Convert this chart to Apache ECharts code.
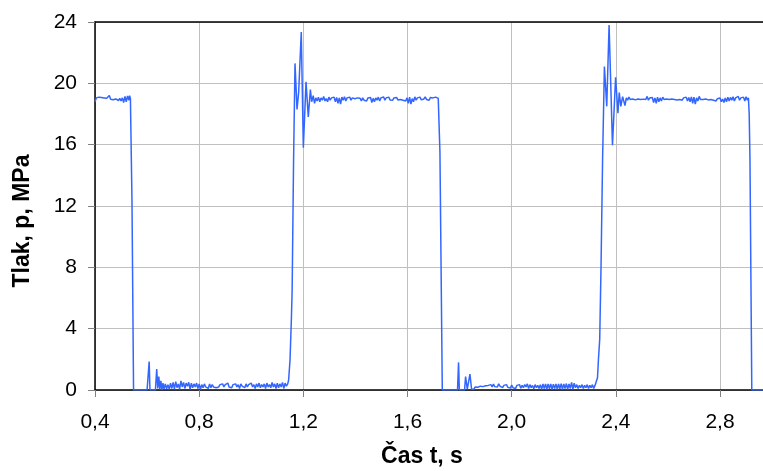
<!DOCTYPE html>
<html>
<head>
<meta charset="utf-8">
<script src="https://cdn.jsdelivr.net/npm/echarts@6/dist/echarts.min.js"></script>
<style>html,body{margin:0;padding:0;background:#fff;}#c{width:763px;height:471px;}</style>
</head>
<body>
<div id="c"></div>
<script>
// X ticks (s) and Y ticks (MPa)
const xTicks = [0.4, 0.8, 1.2, 1.6, 2.0, 2.4, 2.8];
const yTicks = [0, 4, 8, 12, 16, 20, 24];
const xTitle = 'Čas t, s';
const yTitle = 'Tlak, p, MPa';

// [time s, pressure MPa], by segment
const high0 = [
  [0.400,18.80],[0.405,19.05],[0.410,18.92],[0.415,19.10],[0.420,18.98],[0.425,19.08],[0.430,18.95],[0.435,19.05],
  [0.440,18.97],[0.445,19.02],[0.450,18.94],[0.455,19.20],[0.460,18.96],[0.465,19.06],[0.470,18.93],[0.475,19.04],
  [0.480,18.98],[0.485,19.10],[0.490,18.88],[0.495,19.02],[0.500,18.85],[0.505,19.05],[0.510,18.75],[0.515,19.15],
  [0.520,18.80],[0.525,19.18],[0.530,18.90],[0.533,19.20],[0.536,19.00]
];
const fall1 = [[0.542,12.30],[0.548,0.00]];
const low1 = [
  [0.600,0.00],[0.605,0.00],[0.608,1.85],[0.611,0.00],[0.632,0.00],[0.637,1.37],[0.641,0.10],[0.645,0.87],
  [0.649,0.05],[0.653,0.60],[0.657,0.00],[0.661,0.45],
  [0.665,0.05],[0.670,0.40],[0.675,0.08],[0.680,0.35],[0.685,0.05],[0.690,0.45],[0.695,0.10],[0.700,0.50],
  [0.705,0.05],[0.710,0.55],[0.715,0.15],[0.720,0.40],[0.725,0.05],[0.730,0.60],[0.735,0.20],[0.740,0.50],
  [0.745,0.10],[0.750,0.45],[0.755,0.25],[0.760,0.50],[0.765,0.05],[0.770,0.45],[0.775,0.15],[0.780,0.40],
  [0.785,0.20],[0.790,0.45],[0.795,0.10],[0.800,0.40],[0.805,0.05],[0.810,0.35],[0.815,0.15],[0.820,0.40],
  [0.825,0.20],[0.830,0.30],[0.835,0.10],[0.840,0.40],[0.845,0.15],[0.850,0.35],[0.855,0.20],[0.860,0.30],
  [0.865,0.15],[0.870,0.25],[0.875,0.20],[0.880,0.35],[0.885,0.25],[0.890,0.40],[0.895,0.20],[0.900,0.35],
  [0.905,0.25],[0.910,0.45],[0.915,0.20],[0.920,0.30],[0.925,0.15],[0.930,0.35],[0.935,0.25],[0.940,0.40],
  [0.945,0.20],[0.950,0.35],[0.955,0.10],[0.960,0.40],[0.965,0.25],[0.970,0.30],[0.975,0.15],[0.980,0.40],
  [0.985,0.20],[0.990,0.35],[0.995,0.25],[1.000,0.45],[1.005,0.20],[1.010,0.35],[1.015,0.10],[1.020,0.40],
  [1.025,0.20],[1.030,0.45],[1.035,0.15],[1.040,0.35],[1.045,0.20],[1.050,0.40],[1.055,0.10],[1.060,0.45],
  [1.065,0.20],[1.070,0.35],[1.075,0.15],[1.080,0.50],[1.085,0.20],[1.090,0.40],[1.095,0.10],[1.100,0.45],
  [1.105,0.15],[1.110,0.40],[1.115,0.20],[1.120,0.50],[1.125,0.10],[1.130,0.45],[1.135,0.25]
];
const rise1 = [
  [1.140,0.40],[1.1435,0.65],[1.149,2.00],[1.154,4.60],[1.157,6.50],[1.1625,15.00],[1.168,21.30],[1.1757,18.30],
  [1.182,19.40],[1.192,23.35],[1.200,15.80],[1.2103,20.10],[1.219,17.80],[1.227,19.60],[1.232,18.80],[1.238,19.20]
];
const high1 = [
  [1.243,18.70],[1.248,19.05],[1.253,18.85],[1.258,19.10],[1.263,18.80],[1.268,19.05],[1.273,18.90],[1.278,19.15],
  [1.283,18.85],[1.288,19.00],[1.293,18.80],[1.298,19.10],[1.303,18.90],[1.308,19.05],[1.313,18.95],[1.318,19.10],
  [1.323,18.80],[1.328,19.08],[1.333,18.70],[1.338,19.05],[1.343,18.65],[1.348,19.10],[1.353,18.90],[1.358,19.12],
  [1.363,18.85],[1.368,19.05],[1.373,18.95],[1.378,19.10],[1.383,18.90],[1.388,19.05],[1.393,18.95],[1.398,19.00],
  [1.403,18.88],[1.408,19.05],[1.413,18.92],[1.418,19.02],[1.423,18.85],[1.428,19.05],[1.433,18.90],[1.438,19.00],
  [1.443,18.85],[1.448,19.05],[1.453,18.95],[1.458,19.08],[1.463,18.75],[1.468,19.02],[1.473,18.80],[1.478,19.05],
  [1.483,18.90],[1.488,19.10],[1.493,18.85],[1.498,19.05],[1.503,18.95],[1.508,19.12],[1.513,18.90],[1.518,19.05],
  [1.523,18.95],[1.528,19.10],[1.533,18.92],[1.538,19.02],[1.543,18.90],[1.548,19.05],[1.553,18.98],[1.558,19.08],
  [1.563,18.92],[1.568,19.00],[1.573,18.95],[1.578,19.05],[1.583,18.90],[1.588,18.98],[1.593,18.85],[1.598,19.05],
  [1.603,18.70],[1.608,19.10],[1.613,18.65],[1.618,19.00],[1.623,18.80],[1.628,19.12],[1.633,18.90],[1.638,19.05],
  [1.643,18.95],[1.648,19.10],[1.653,18.92],[1.658,19.05],[1.663,18.98],[1.668,19.12],[1.673,18.95],[1.678,19.05],
  [1.683,18.90],[1.688,19.08],[1.693,18.98],[1.698,19.05],[1.703,18.95],[1.708,19.10],[1.713,19.00],[1.718,19.02]
];
const fall2 = [[1.7215,18.90],[1.7245,15.50],[1.7335,0.00]];
const low2 = [
  [1.792,0.00],[1.796,1.80],[1.799,0.00],[1.819,0.00],[1.823,0.87],[1.8295,0.05],[1.8397,1.04],[1.846,0.05],
  [1.850,0.15],[1.855,0.05],[1.860,0.20],[1.865,0.08],[1.870,0.18],[1.875,0.10],[1.880,0.25],[1.885,0.12],
  [1.890,0.22],[1.895,0.15],[1.900,0.28],[1.905,0.15],[1.910,0.30],[1.915,0.18],[1.920,0.35],[1.925,0.20],
  [1.930,0.38],[1.935,0.22],[1.940,0.30],[1.945,0.20],[1.950,0.40],[1.955,0.25],[1.960,0.35],[1.965,0.15],
  [1.970,0.30],[1.975,0.20],[1.980,0.35],[1.985,0.18],[1.990,0.30],[1.995,0.12],[2.000,0.32],[2.005,0.15],
  [2.010,0.28],[2.015,0.10],[2.020,0.30],[2.025,0.18],[2.030,0.35],[2.035,0.12],[2.040,0.30],[2.045,0.15],
  [2.050,0.35],[2.055,0.20],[2.060,0.40],[2.065,0.10],[2.070,0.35],[2.075,0.15],[2.080,0.30],[2.085,0.08],
  [2.090,0.35],[2.095,0.15],[2.100,0.30],[2.105,0.10],[2.110,0.35],[2.115,0.05],[2.120,0.40],[2.125,0.10],
  [2.130,0.40],[2.135,0.05],[2.140,0.40],[2.145,0.08],[2.150,0.40],[2.155,0.05],[2.160,0.38],[2.165,0.10],
  [2.170,0.40],[2.175,0.05],[2.180,0.40],[2.185,0.08],[2.190,0.42],[2.195,0.05],[2.200,0.40],[2.205,0.10],
  [2.210,0.42],[2.215,0.05],[2.220,0.40],[2.225,0.10],[2.230,0.50],[2.235,0.05],[2.240,0.45],[2.245,0.15],
  [2.250,0.35],[2.255,0.10],[2.260,0.30],[2.265,0.15],[2.270,0.35],[2.275,0.10],[2.280,0.30],[2.285,0.15],
  [2.290,0.35],[2.295,0.10],[2.300,0.30],[2.305,0.15],[2.310,0.35],[2.315,0.10],[2.320,0.30],[2.325,0.30]
];
const rise2 = [
  [2.3295,0.80],[2.333,1.96],[2.338,3.30],[2.343,8.00],[2.349,15.00],[2.356,21.10],[2.365,18.50],[2.374,23.80],
  [2.387,15.96],[2.399,20.40],[2.408,18.05],[2.413,19.40],[2.419,18.50],[2.426,19.13],[2.435,18.55],[2.440,19.05]
];
const high2 = [
  [2.445,18.90],[2.450,19.10],[2.455,18.95],[2.460,19.05],[2.465,18.98],[2.470,19.08],[2.475,18.92],[2.480,19.05],
  [2.485,18.98],[2.490,19.02],[2.495,18.95],[2.500,19.05],[2.505,18.97],[2.510,19.02],[2.515,18.95],[2.520,19.15],
  [2.525,18.90],[2.530,19.05],[2.535,18.92],[2.540,19.08],[2.545,18.75],[2.550,19.05],[2.555,18.70],[2.560,19.10],
  [2.565,18.80],[2.570,19.05],[2.575,18.85],[2.580,19.10],[2.585,18.95],[2.590,19.05],[2.595,18.98],[2.600,19.05],
  [2.605,18.95],[2.610,19.02],[2.615,18.98],[2.620,19.05],[2.625,18.95],[2.630,19.00],[2.635,18.92],[2.640,19.05],
  [2.645,18.95],[2.650,19.02],[2.655,18.90],[2.660,19.05],[2.665,18.95],[2.670,19.10],[2.675,18.85],[2.680,19.08],
  [2.685,18.80],[2.690,19.12],[2.695,18.70],[2.700,19.10],[2.705,18.65],[2.710,19.05],[2.715,18.85],[2.720,19.15],
  [2.725,18.95],[2.730,19.08],[2.735,18.95],[2.740,19.05],[2.745,18.98],[2.750,19.02],[2.755,18.92],[2.760,19.05],
  [2.765,18.95],[2.770,19.00],[2.775,18.90],[2.780,19.02],[2.785,18.85],[2.790,19.00],[2.795,18.88],[2.800,19.05],
  [2.805,18.80],[2.810,18.98],[2.815,18.75],[2.820,19.05],[2.825,18.80],[2.830,19.10],[2.835,18.85],[2.840,19.08],
  [2.845,18.90],[2.850,19.12],[2.855,18.85],[2.860,19.05],[2.865,18.95],[2.870,19.15],[2.875,18.90],[2.880,19.05],
  [2.885,18.95],[2.890,19.10],[2.895,18.85],[2.900,19.12],[2.905,18.90],[2.909,19.05]
];
const fall3 = [[2.912,18.00],[2.915,15.00],[2.922,0.00],[3.000,0.00]];

const pressureSeries = [].concat(high0, fall1, low1, rise1, high1, fall2, low2, rise2, high2, fall3);

const chart = echarts.init(document.getElementById('c'), null, {renderer: 'canvas'});
const labelFont = {fontFamily: '"Liberation Sans", Arial, sans-serif', fontSize: 21, color: '#000'};
const gridLine = {lineStyle: {color: '#c0c0c0', width: 1}};
const X_MIN = 0.4, X_MAX = 2.965;

chart.setOption({
  animation: false,
  backgroundColor: '#fff',
  grid: {left: 95, top: 22, bottom: 81, right: 0, show: false, containLabel: false},
  xAxis: [{
    type: 'value', min: X_MIN, max: X_MAX, interval: 0.2,
    axisLine: {show: true, onZero: false, lineStyle: {color: '#000', width: 1.5}},
    axisTick: {show: true, length: 7, customValues: xTicks, lineStyle: {color: '#808080', width: 1}},
    axisLabel: Object.assign({margin: 22, customValues: xTicks, formatter: v => v.toFixed(1).replace('.', ',')}, labelFont),
    splitLine: Object.assign({show: true}, gridLine)
  }, {
    type: 'value', position: 'top', min: X_MIN, max: X_MAX,
    axisLine: {show: true, onZero: false, lineStyle: {color: '#000', width: 1.5}},
    axisTick: {show: false}, axisLabel: {show: false}, splitLine: {show: false}
  }],
  yAxis: {
    type: 'value', min: 0, max: 24, interval: 2,
    axisLine: {show: true, lineStyle: {color: '#000', width: 1.5}},
    axisTick: {show: true, length: 7, customValues: yTicks, lineStyle: {color: '#808080', width: 1}},
    axisLabel: Object.assign({margin: 18, customValues: yTicks, formatter: v => String(v)}, labelFont),
    splitLine: Object.assign({show: true}, gridLine)
  },
  graphic: [
    {type: 'text', x: 422, y: 457, style: {text: xTitle, textAlign: 'center', textVerticalAlign: 'middle', font: 'bold 23px "Liberation Sans", Arial, sans-serif', fill: '#000'}},
    {type: 'text', x: 23, y: 221, rotation: Math.PI / 2, style: {text: yTitle, textAlign: 'center', textVerticalAlign: 'middle', font: 'bold 23px "Liberation Sans", Arial, sans-serif', fill: '#000'}}
  ],
  series: [{
    type: 'line', xAxisIndex: 0, data: pressureSeries, showSymbol: false, symbol: 'none',
    lineStyle: {color: '#3366ff', width: 1.5}, clip: true
  }]
});
</script>
</body>
</html>
